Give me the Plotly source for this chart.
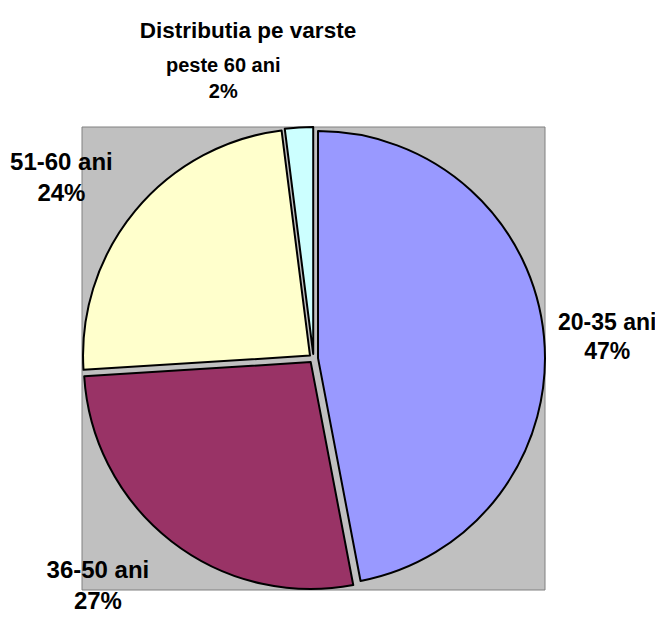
import plotly.graph_objects as go

categories = ["20-35 ani", "36-50 ani", "51-60 ani", "peste 60 ani"]
values = [47, 27, 24, 2]
colors = ["#9999FF", "#993366", "#FFFFCC", "#CCFFFF"]
label_sizes = [23, 24, 24, 20]

W, H = 663, 617
OFF = 8  # page body margin
x0, x1, y0, y1 = 82 - OFF, 545 - OFF, 127 - OFF, 590 - OFF

# per-slice label templates (blank lines nudge Plotly's outside-label placement)
templates = [
    "%{label}<br>%{percent:.0%}",
    "&nbsp;<br>%{label}<br>%{percent:.0%}",
    "%{label}<br>%{percent:.0%}<br>&nbsp;",
    "%{label}<br>%{percent:.0%}<br>&nbsp;",
]

fig = go.Figure(go.Pie(
    labels=categories,
    values=values,
    sort=False,
    direction="clockwise",
    rotation=0,
    pull=[0.02, 0.02, 0.02, 0.02],
    marker=dict(colors=colors, line=dict(color="black", width=2)),
    texttemplate=templates,
    textposition="outside",
    automargin=False,
    textfont=dict(family="Arial, Liberation Sans", size=label_sizes, color="black", weight="bold"),
    showlegend=False,
    domain=dict(x=[x0 / W, x1 / W], y=[1 - y1 / H, 1 - y0 / H]),
    hoverinfo="label+percent",
))

fig.add_shape(type="rect", xref="paper", yref="paper",
              x0=x0 / W, x1=x1 / W, y0=1 - y1 / H, y1=1 - y0 / H,
              fillcolor="#C0C0C0", line=dict(color="#808080", width=1), layer="below")

fig.update_layout(
    width=W, height=H,
    margin=dict(l=0, r=0, t=0, b=0, autoexpand=False),
    showlegend=False,
    paper_bgcolor="white",
    title=dict(text="Distributia pe varste", x=(248 - OFF) / W, xanchor="center",
               y=1 - (30 - OFF) / H, yanchor="middle", automargin=False,
               font=dict(family="Arial, Liberation Sans", size=22.5, color="black", weight="bold")),
)

fig.write_html("out.html")
